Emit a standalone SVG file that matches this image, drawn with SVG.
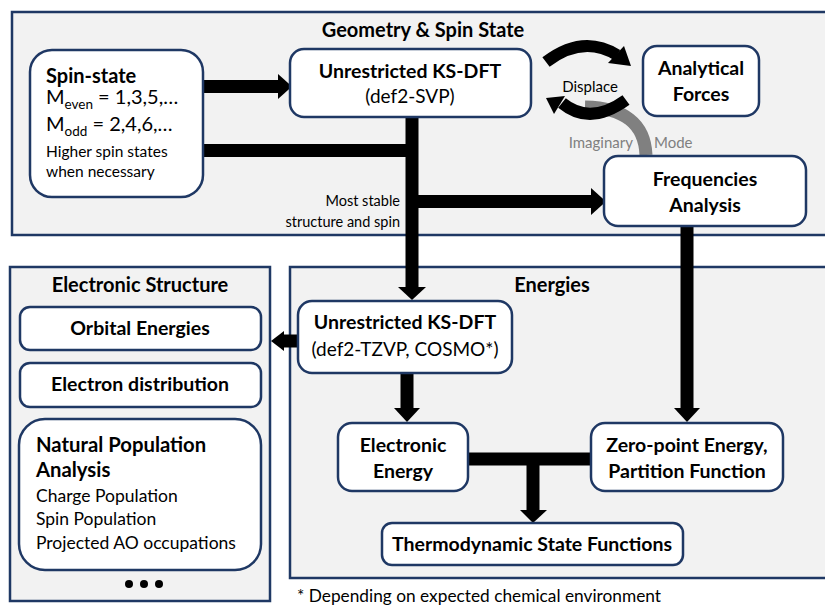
<svg xmlns="http://www.w3.org/2000/svg" width="825" height="606" viewBox="0 0 825 606">
<style>
text{font-family:Lato,"Liberation Sans",sans-serif;fill:#000}
.b{font-weight:bold}
.panel{fill:#f2f2f2;stroke:#1f3864;stroke-width:2.5}
.box{fill:#fff;stroke:#1f3864;stroke-width:2.5}
.t{font-size:19.5px;font-weight:bold;text-anchor:middle}
.h{font-size:20px;font-weight:bold;text-anchor:middle}
.n{font-size:19px;text-anchor:middle}
.bar{fill:none;stroke:#000;stroke-width:13}
</style>
<rect width="825" height="606" fill="#fff"/>
<g id="panel-geometry">
<rect class="panel" x="12" y="12" width="818" height="223"/>
<text class="h" x="423" y="37">Geometry &amp; Spin State</text>
</g>
<g id="panel-electronic">
<rect class="panel" x="10" y="267" width="260" height="334"/>
<text class="h" x="140" y="292">Electronic Structure</text>
</g>
<g id="panel-energies">
<rect class="panel" x="290" y="267" width="540" height="311"/>
<text class="h" x="552" y="292">Energies</text>
</g>
<g id="connectors">
<path class="bar" d="M204 86.5H280"/>
<polygon points="278,74 292,86.5 278,99"/>
<path class="bar" d="M204 150.5H412M412 117V290"/>
<polygon points="398,287 426,287 412,300"/>
<path class="bar" d="M412 201.5H594"/>
<polygon points="591,188 606,201.5 591,215"/>
<path class="bar" d="M687 226V410"/>
<polygon points="674,408 700,408 687,422"/>
<path class="bar" d="M298 341H282"/>
<polygon points="284,331 284,351 271,341"/>
<path class="bar" d="M407 373V410"/>
<polygon points="394,408 420,408 407,422"/>
<path class="bar" d="M468 459H591M533 459V512"/>
<polygon points="520,510 547,510 533,523"/>
<path d="M585 107Q644 108 646 155" fill="none" stroke="#808080" stroke-width="13"/>
<path d="M546 62Q583 34 617 55" fill="none" stroke="#000" stroke-width="12"/>
<polygon points="624,46 631,66 608,63"/>
<path d="M626 100Q590 126 562 103" fill="none" stroke="#000" stroke-width="12"/>
<polygon points="546,98 554,114 565,96"/>
<text x="590" y="92" font-size="15" text-anchor="middle">Displace</text>
<text x="633" y="148" font-size="15" text-anchor="end" style="fill:#808080">Imaginary</text>
<text x="654" y="148" font-size="15" style="fill:#808080">Mode</text>
<text x="400" y="206" font-size="14.5" text-anchor="end">Most stable</text>
<text x="400" y="227" font-size="14.5" text-anchor="end">structure and spin</text>
</g>
<g id="spin-state">
<rect class="box" x="30" y="50" width="173" height="147" rx="22"/>
<text x="46" y="83" font-size="20" class="b">Spin-state</text>
<text x="46" y="104" font-size="20">M<tspan font-size="13.5" dy="5">even</tspan><tspan dy="-5"> = 1,3,5,…</tspan></text>
<text x="46" y="131" font-size="20">M<tspan font-size="13.5" dy="5">odd</tspan><tspan dy="-5"> = 2,4,6,…</tspan></text>
<text x="46" y="157" font-size="15.5">Higher spin states</text>
<text x="46" y="177" font-size="15.5">when necessary</text>
</g>
<g id="ksdft-svp">
<rect class="box" x="290" y="49" width="241" height="68" rx="14"/>
<text class="t" x="410" y="78">Unrestricted KS-DFT</text>
<text class="n" x="410" y="103">(def2-SVP)</text>
</g>
<g id="analytical-forces">
<rect class="box" x="643" y="46" width="116" height="70" rx="14"/>
<text class="t" x="701" y="75">Analytical</text>
<text class="t" x="701" y="101">Forces</text>
</g>
<g id="frequencies">
<rect class="box" x="604" y="156" width="202" height="70" rx="14"/>
<text class="t" x="705" y="186">Frequencies</text>
<text class="t" x="705" y="212">Analysis</text>
</g>
<g id="orbital-energies">
<rect class="box" x="20" y="307" width="241" height="43" rx="10"/>
<text class="t" x="140" y="335">Orbital Energies</text>
</g>
<g id="electron-distribution">
<rect class="box" x="20" y="363" width="241" height="44" rx="10"/>
<text class="t" x="140" y="391">Electron distribution</text>
</g>
<g id="npa">
<rect class="box" x="19" y="419" width="242" height="151" rx="26"/>
<text x="36" y="452" font-size="20.3" class="b">Natural Population</text>
<text x="36" y="477" font-size="20.3" class="b">Analysis</text>
<text x="36" y="502" font-size="17.5">Charge Population</text>
<text x="36" y="525" font-size="17.5">Spin Population</text>
<text x="36" y="549" font-size="17.5">Projected AO occupations</text>
</g>
<g id="more">
<circle cx="129" cy="584" r="4"/>
<circle cx="144" cy="584" r="4"/>
<circle cx="159" cy="584" r="4"/>
</g>
<g id="ksdft-tzvp">
<rect class="box" x="298" y="301" width="214" height="72" rx="14"/>
<text class="t" x="405" y="329">Unrestricted KS-DFT</text>
<text class="n" x="405" y="356">(def2-TZVP, COSMO*)</text>
</g>
<g id="electronic-energy">
<rect class="box" x="338" y="423" width="130" height="68" rx="14"/>
<text class="t" x="403" y="452">Electronic</text>
<text class="t" x="403" y="478">Energy</text>
</g>
<g id="zpe">
<rect class="box" x="591" y="423" width="192" height="68" rx="14"/>
<text class="t" x="687" y="452">Zero-point Energy,</text>
<text class="t" x="687" y="478">Partition Function</text>
</g>
<g id="thermo">
<rect class="box" x="382" y="523" width="301" height="42" rx="10"/>
<text class="t" x="532" y="551">Thermodynamic State Functions</text>
</g>
<text x="297" y="602" font-size="17.3">* Depending on expected chemical environment</text>
</svg>
